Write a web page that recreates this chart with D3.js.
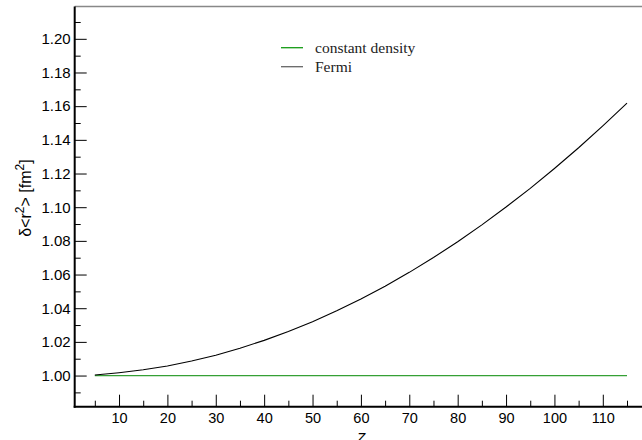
<!DOCTYPE html>
<html>
<head>
<meta charset="utf-8">
<script src="https://cdn.jsdelivr.net/npm/d3@7"></script>
<style>
  html, body { margin: 0; padding: 0; background: #fff; }
  svg { display: block; }
</style>
</head>
<body>
<svg id="chart" width="642" height="440"></svg>
<script>
// ---- data ----
const zValues = [5, 10, 15, 20, 25, 30, 35, 40, 45, 50, 55, 60, 65, 70, 75, 80, 85, 90, 95, 100, 105, 110, 115];
const fermiValues = [1.0003, 1.0017, 1.0034, 1.0057, 1.0086, 1.0121, 1.0162, 1.0209, 1.0261, 1.0320, 1.0385, 1.0455,
                     1.0531, 1.0613, 1.0701, 1.0795, 1.0895, 1.1001, 1.1112, 1.1230, 1.1353, 1.1483, 1.1618];
const constantValues = [1.0, 1.0, 1.0, 1.0, 1.0, 1.0, 1.0, 1.0, 1.0, 1.0, 1.0, 1.0,
                        1.0, 1.0, 1.0, 1.0, 1.0, 1.0, 1.0, 1.0, 1.0, 1.0, 1.0];
const xMajorTicks = [10, 20, 30, 40, 50, 60, 70, 80, 90, 100, 110];
const xMinorTicks = [5, 15, 25, 35, 45, 55, 65, 75, 85, 95, 105, 115];
const yMajorTicks = [1.00, 1.02, 1.04, 1.06, 1.08, 1.10, 1.12, 1.14, 1.16, 1.18, 1.20];
const yMinorTicks = [0.99, 1.01, 1.03, 1.05, 1.07, 1.09, 1.11, 1.13, 1.15, 1.17, 1.19, 1.21];
const seriesNames = ["constant density", "Fermi"];
const seriesColors = ["#35a035", "#000000"];

// ---- layout ----
const svg = d3.select("#chart");
const pLeft = 74.7, pRight = 642, pTop = 6.5, pBottom = 406.7;

const x = d3.scaleLinear().domain([0.84, 118.1]).range([pLeft, pRight]);
const y = d3.scaleLinear().domain([0.9815, 1.2192]).range([pBottom, pTop]);

// top border (gray)
svg.append("line")
  .attr("x1", pLeft).attr("x2", pRight).attr("y1", pTop).attr("y2", pTop)
  .attr("stroke", "#888").attr("stroke-width", 1.5);

// y axis minor ticks
const yMinor = svg.append("g").attr("transform", `translate(${pLeft},0)`)
  .call(d3.axisRight(y).tickValues(yMinorTicks).tickSize(6).tickFormat(""));
yMinor.select(".domain").remove();
yMinor.selectAll("line").attr("stroke", "#000").attr("stroke-width", 1);

// y axis major ticks
const yMajor = svg.append("g").attr("transform", `translate(${pLeft},0)`)
  .call(d3.axisRight(y).tickValues(yMajorTicks).tickSize(12).tickFormat(""));
yMajor.select(".domain").remove();
yMajor.selectAll("line").attr("stroke", "#000").attr("stroke-width", 1);

// y axis labels
const yLab = svg.append("g").attr("transform", `translate(${pLeft},0)`)
  .call(d3.axisLeft(y).tickValues(yMajorTicks).tickSize(0).tickPadding(4).tickFormat(d3.format(".2f")));
yLab.select(".domain").remove();
yLab.selectAll("text").attr("font-family", "Liberation Sans, Arial, sans-serif").attr("font-size", 15).attr("fill", "#000");

// x axis minor ticks
const xMinor = svg.append("g").attr("transform", `translate(0,${pBottom})`)
  .call(d3.axisTop(x).tickValues(xMinorTicks).tickSize(6).tickFormat(""));
xMinor.select(".domain").remove();
xMinor.selectAll("line").attr("stroke", "#000").attr("stroke-width", 1);

// x axis major ticks
const xMajor = svg.append("g").attr("transform", `translate(0,${pBottom})`)
  .call(d3.axisTop(x).tickValues(xMajorTicks).tickSize(12).tickFormat(""));
xMajor.select(".domain").remove();
xMajor.selectAll("line").attr("stroke", "#000").attr("stroke-width", 1);

// x axis labels
const xLab = svg.append("g").attr("transform", `translate(0,${pBottom})`)
  .call(d3.axisBottom(x).tickValues(xMajorTicks).tickSize(0).tickPadding(6).tickFormat(d3.format("d")));
xLab.select(".domain").remove();
xLab.selectAll("text").attr("font-family", "Liberation Sans, Arial, sans-serif").attr("font-size", 14.5).attr("fill", "#000");

// axis lines
svg.append("line").attr("x1", pLeft).attr("x2", pLeft).attr("y1", pTop).attr("y2", pBottom + 1)
  .attr("stroke", "#000").attr("stroke-width", 2);
svg.append("line").attr("x1", pLeft - 1).attr("x2", pRight).attr("y1", pBottom).attr("y2", pBottom)
  .attr("stroke", "#000").attr("stroke-width", 2);

// series
const line = d3.line().x(d => x(d[0])).y(d => y(d[1]));
const seriesData = [constantValues, fermiValues];
seriesData.forEach((vals, i) => {
  svg.append("path")
    .datum(zValues.map((z, j) => [z, vals[j]]))
    .attr("fill", "none")
    .attr("stroke", seriesColors[i])
    .attr("stroke-width", i === 0 ? 1.3 : 1.1)
    .attr("d", line);
});

// legend
const legend = svg.append("g");
seriesNames.forEach((name, i) => {
  const ly = 47.7 + i * 19;
  legend.append("line").attr("x1", 281).attr("x2", 303).attr("y1", ly).attr("y2", ly)
    .attr("stroke", i === 0 ? "#139a13" : "#666").attr("stroke-width", 1.3);
  legend.append("text").attr("x", 315).attr("y", ly + 5)
    .attr("font-family", "Liberation Serif, Times New Roman, serif").attr("font-size", 15.5)
    .attr("fill", "#222").text(name);
});

// axis titles
svg.append("text")
  .attr("transform", "translate(31,198) rotate(-90)")
  .attr("text-anchor", "middle")
  .attr("font-family", "Liberation Sans, Arial, sans-serif").attr("font-size", 16)
  .attr("fill", "#000")
  .call(t => {
    t.append("tspan").text("δ<r");
    t.append("tspan").attr("baseline-shift", "super").attr("font-size", 12).text("2");
    t.append("tspan").text("> [fm");
    t.append("tspan").attr("baseline-shift", "super").attr("font-size", 12).text("2");
    t.append("tspan").text("]");
  });

svg.append("text")
  .attr("x", x(60)).attr("y", 443)
  .attr("text-anchor", "middle")
  .attr("font-family", "Liberation Sans, Arial, sans-serif").attr("font-size", 14)
  .attr("font-style", "italic").attr("fill", "#000")
  .text("Z");
</script>
</body>
</html>
